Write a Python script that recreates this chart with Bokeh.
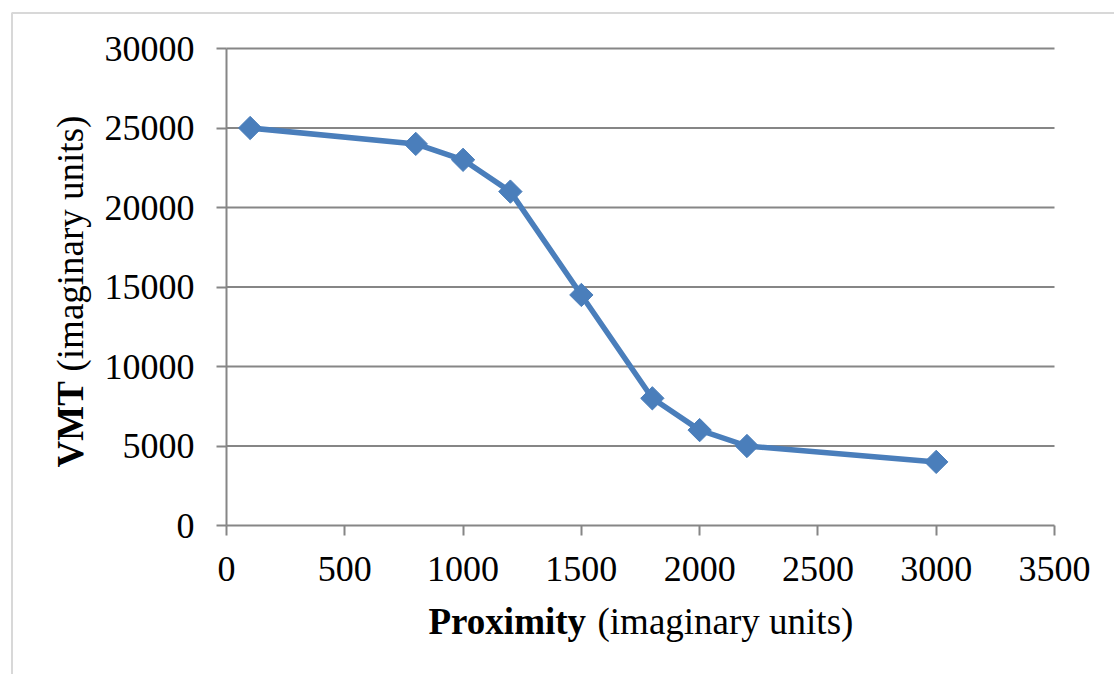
import math
from bokeh.plotting import figure
from bokeh.models import Range1d, SingleIntervalTicker, Label, BoxAnnotation, ColumnDataSource
from bokeh.embed import file_html
from bokeh.resources import INLINE

# ---- data ----
proximity = [100, 800, 1000, 1200, 1500, 1800, 2000, 2200, 3000]
vmt = [25000, 24000, 23000, 21000, 14500, 8000, 6000, 5000, 4000]
x_ticks_interval = 500
y_ticks_interval = 5000
y_grid_values = [5000, 10000, 15000, 20000, 25000, 30000]
x_title_bold = "Proximity"
x_title_rest = "(imaginary units)"
y_title_bold = "VMT"
y_title_rest = "(imaginary units)"

# ---- layout (frame covers the whole canvas; axes are fixed inside it) ----
W, H = 1114, 674
FL, FT, FW, FH = 226, 48, 828, 477
XMAX, YMAX = 3500, 30000
kx = FW / XMAX
ky = FH / YMAX
x_start, x_end = -FL / kx, XMAX + (W - FL - FW) / kx
y_start, y_end = -(H - FT - FH) / ky, YMAX + FT / ky

def dx(px):
    return (px - FL) / kx

def dy(py):
    return (FT + FH - py) / ky

GREY = "#868686"
BLUE = "#4a7ebb"
FONT = "Liberation Serif"

p = figure(width=W, height=H, min_border=0,
           x_range=Range1d(x_start, x_end), y_range=Range1d(y_start, y_end),
           output_backend="svg", toolbar_location=None)
p.outline_line_color = None
p.background_fill_color = "white"
p.border_fill_color = "white"
p.xgrid.visible = False
p.ygrid.visible = False

# horizontal gridlines across the plot area
p.segment(x0=0, x1=XMAX, y0=y_grid_values, y1=y_grid_values,
          line_color=GREY, line_width=2)

p.xaxis.ticker = SingleIntervalTicker(interval=x_ticks_interval)
p.yaxis.ticker = SingleIntervalTicker(interval=y_ticks_interval)
p.xaxis.fixed_location = 0
p.yaxis.fixed_location = 0
p.xaxis.bounds = (0, XMAX)
p.yaxis.bounds = (0, YMAX)
for ax in (p.xaxis, p.yaxis):
    ax.axis_line_color = GREY
    ax.axis_line_width = 2
    ax.major_tick_line_color = GREY
    ax.major_tick_line_width = 2
    ax.major_tick_out = 10
    ax.major_tick_in = 0
    ax.minor_tick_line_color = None
    ax.major_label_text_font = FONT
    ax.major_label_text_font_size = "36px"
    ax.major_label_text_color = "black"
p.xaxis.major_label_standoff = 21
p.yaxis.major_label_standoff = 22

src = ColumnDataSource(dict(x=proximity, y=vmt))
p.line("x", "y", source=src, line_color=BLUE, line_width=5.5)
p.scatter("x", "y", source=src, marker="square", angle=math.pi / 4, size=16.5,
          fill_color=BLUE, line_color=BLUE)

common = dict(text_font=FONT, text_font_size="37px", text_color="black",
              text_baseline="alphabetic", text_align="left")
p.add_layout(Label(x=dx(428), y=dy(621), text=x_title_bold, text_font_style="bold", **common))
p.add_layout(Label(x=dx(597), y=dy(621), text=x_title_rest, **common))
p.add_layout(Label(x=dx(70), y=dy(467), angle=math.pi / 2, text=y_title_bold,
                   text_font_style="bold", **common))
p.add_layout(Label(x=dx(70), y=dy(371), angle=math.pi / 2, text=y_title_rest, **common))

p.add_layout(BoxAnnotation(left=dx(11.5), right=dx(1140), top=dy(12.5), bottom=dy(700),
                           fill_alpha=0, line_color="#7f7f7f", line_width=2,
                           level="overlay"))

open("out.html", "w").write(file_html(p, INLINE))
